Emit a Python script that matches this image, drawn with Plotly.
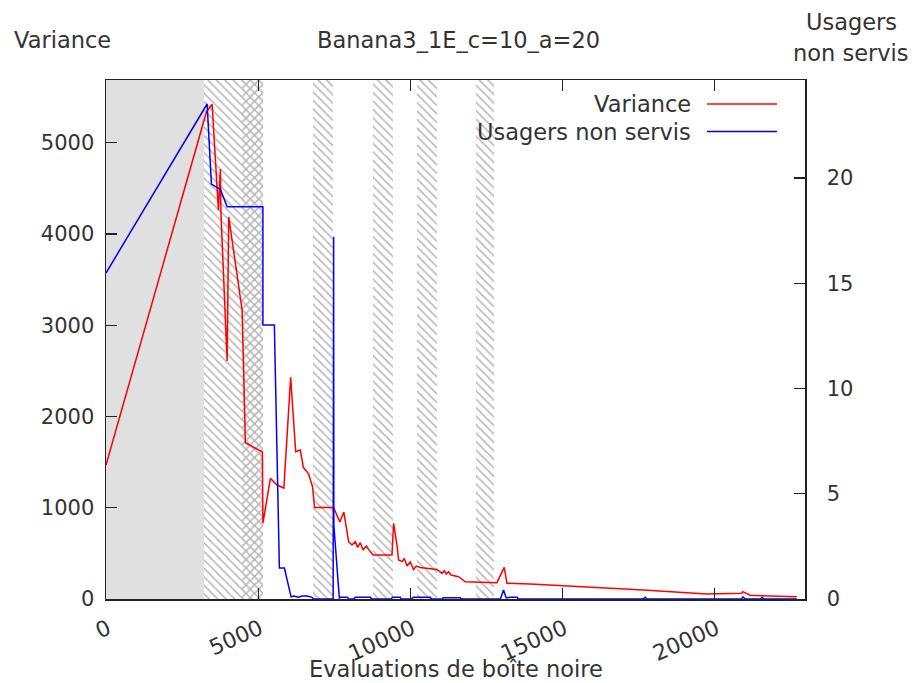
import plotly.graph_objects as go

# ---------------- data ----------------
title_text = "Banana3_1E_c=10_a=20"
x_title = "Evaluations de boîte noire"
y1_title = "Variance"
y2_title_lines = ["Usagers", "non servis"]
series_names = ["Variance", "Usagers non servis"]

x_ticks = [0, 5000, 10000, 15000, 20000]
y1_ticks = [0, 1000, 2000, 3000, 4000, 5000]
y2_ticks = [0, 5, 10, 15, 20]

# Variance (left axis)
var_x = [0, 3300, 3487, 3694, 3760, 3776, 3980, 4033, 4473, 4581, 5139, 5156, 5402, 5622,
         5845, 6068, 6233, 6387, 6485, 6660, 6788, 6853, 7480, 7684, 7815, 7973, 8085, 8193,
         8269, 8357, 8446, 8554, 8630, 8774, 9398, 9451, 9562, 9615, 9727, 9802, 9891, 9999,
         10107, 10196, 10328, 10876, 11040, 11116, 11181, 11257, 11336, 11585, 11805, 12846,
         13086, 13175, 13940, 14981, 17660, 19742, 20891, 20924, 21164, 22698]
var_y = [1468, 5337, 5422, 4261, 4710, 4239, 2607, 4187, 3165, 1712, 1610, 829, 1322, 1249,
         1216, 2428, 1613, 1632, 1443, 1369, 1227, 1002, 1002, 843, 953, 628, 591, 628,
         566, 617, 537, 581, 544, 482, 482, 829, 591, 427, 409, 444, 361, 405,
         323, 361, 345, 323, 281, 310, 274, 299, 263, 244, 189, 179,
         347, 172, 164, 146, 99, 55, 62, 80, 41, 25]

# Usagers non servis (right axis)
usr_x = [0, 3323, 3464, 3760, 3980, 5156, 5156, 5533, 5697, 5862, 6082, 6167, 6331, 6443,
         6607, 6771, 6810, 7464, 7480, 7487, 7668, 7700, 7930, 7980, 8150, 8193, 8686, 8730,
         9380, 9410, 9670, 9700, 10060, 10097, 10656, 10700, 11050, 11083, 11641, 11680,
         12960, 13063, 13150, 13283, 13513, 13550, 17650, 17716, 17780, 20880, 20934, 21000,
         21500, 21558, 21620, 22698]
usr_y = [15.49, 23.52, 19.71, 19.46, 18.64, 18.64, 13.02, 13.02, 1.47, 1.47, 0.1, 0.14, 0.08, 0.14,
         0.14, 0.08, 0, 0, 17.21, 3.5, 0.05, 0.08, 0.08, 0, 0, 0.08, 0.08, 0,
         0, 0.08, 0.08, 0, 0, 0.08, 0.08, 0, 0, 0.06, 0.06, 0,
         0, 0.43, 0.05, 0.08, 0.08, 0, 0, 0.08, 0, 0, 0.1, 0,
         0, 0.08, 0, 0]

# phases
gray_start, gray_end = 0, 3235
band_starts = [3235, 4482, 6814, 8784, 10229, 12166]
band_ends = [5156, 5156, 7471, 9441, 10886, 12757]
band_patterns = ["\\", "/", "\\", "\\", "\\", "\\"]

x_range = [0, 22970]
y1_range = [0, 5687]
y2_range = [0, 24.66]

# ---------------- figure ----------------
FONT = "DejaVu Sans"
TXT = "#333333"
AX = "#222222"
FS = 22.5
TFS = 21

fig = go.Figure()

fig.add_trace(go.Bar(x=[(gray_start + gray_end) / 2], y=[1], width=[gray_end - gray_start],
                     marker=dict(color="#e0e0e0", line_width=0), showlegend=False,
                     hoverinfo="skip", xaxis="x", yaxis="y"))
for s, e, p in zip(band_starts, band_ends, band_patterns):
    fig.add_trace(go.Bar(x=[(s + e) / 2], y=[1], width=[e - s],
                         marker=dict(color="rgba(0,0,0,0)", line_width=0,
                                     pattern=dict(shape=p, fgcolor="#b4b4b4",
                                                  bgcolor="rgba(0,0,0,0)", size=6,
                                                  solidity=0.25, fillmode="replace")),
                         showlegend=False, hoverinfo="skip", xaxis="x", yaxis="y"))

fig.add_trace(go.Scatter(x=var_x, y=var_y, mode="lines", name=series_names[0],
                         line=dict(color="#ff0000", width=1.5), xaxis="x", yaxis="y2"))
fig.add_trace(go.Scatter(x=usr_x, y=usr_y, mode="lines", name=series_names[1],
                         line=dict(color="#0000ff", width=1.5), xaxis="x", yaxis="y3"))

L, R, T, B = 106, 805, 80, 599
W, H = 912, 683


def px(xp):
    return (xp - L) / (R - L)


def py(yp):
    return (B - yp) / (B - T)


axis_common = dict(ticks="inside", ticklen=11, tickwidth=1.2, tickcolor=AX, showline=True,
                   linecolor=AX, linewidth=1.5, showgrid=False, zeroline=False)

fig.update_layout(
    width=W, height=H,
    margin=dict(l=L, r=W - R, t=T, b=H - B, pad=0),
    paper_bgcolor="white", plot_bgcolor="white",
    font=dict(family=FONT, size=FS, color=TXT),
    showlegend=False, barmode="overlay", bargap=0,
    xaxis=dict(range=x_range, tickvals=x_ticks, ticktext=[str(v) for v in x_ticks],
               mirror="ticks", tickangle=-24, ticklabelstandoff=7, ticklabelshift=2,
               tickfont=dict(family=FONT, size=22, color=TXT), **axis_common),
    yaxis=dict(range=[0, 1], visible=False, fixedrange=True),
    yaxis2=dict(overlaying="y", side="left", range=y1_range, tickvals=y1_ticks,
                ticklabelstandoff=6, tickfont=dict(family=FONT, size=TFS, color=TXT),
                **axis_common),
    yaxis3=dict(overlaying="y", side="right", range=y2_range, tickvals=y2_ticks,
                ticklabelstandoff=16, tickfont=dict(family=FONT, size=TFS, color=TXT),
                **axis_common),
)

ann = []
ann.append(dict(text=title_text, x=px(458), y=py(40), xref="paper", yref="paper",
                xanchor="center", yanchor="middle", showarrow=False))
ann.append(dict(text=y1_title, x=px(12), y=py(40), xref="paper", yref="paper",
                xanchor="left", yanchor="middle", showarrow=False))
ann.append(dict(text=y2_title_lines[0], x=px(851), y=py(22), xref="paper", yref="paper",
                xanchor="center", yanchor="middle", showarrow=False))
ann.append(dict(text=y2_title_lines[1], x=px(851), y=py(53), xref="paper", yref="paper",
                xanchor="center", yanchor="middle", showarrow=False))
ann.append(dict(text=x_title, x=px(456), y=py(669), xref="paper", yref="paper",
                xanchor="center", yanchor="middle", showarrow=False))
# legend (text then sample, gnuplot style)
ann.append(dict(text=series_names[0], x=px(693), y=py(104), xref="paper", yref="paper",
                xanchor="right", yanchor="middle", showarrow=False))
ann.append(dict(text=series_names[1], x=px(693), y=py(131.5), xref="paper", yref="paper",
                xanchor="right", yanchor="middle", showarrow=False))
fig.update_layout(annotations=ann)

fig.add_shape(type="line", xref="paper", yref="paper", x0=px(707), x1=px(777),
              y0=py(104), y1=py(104), line=dict(color="#ff0000", width=1.5))
fig.add_shape(type="line", xref="paper", yref="paper", x0=px(707), x1=px(777),
              y0=py(131.5), y1=py(131.5), line=dict(color="#0000ff", width=1.5))

fig.write_html("out.html", config={"displayModeBar": False, "staticPlot": True},
               post_script="document.body.style.margin='0';document.body.style.overflow='hidden';")
